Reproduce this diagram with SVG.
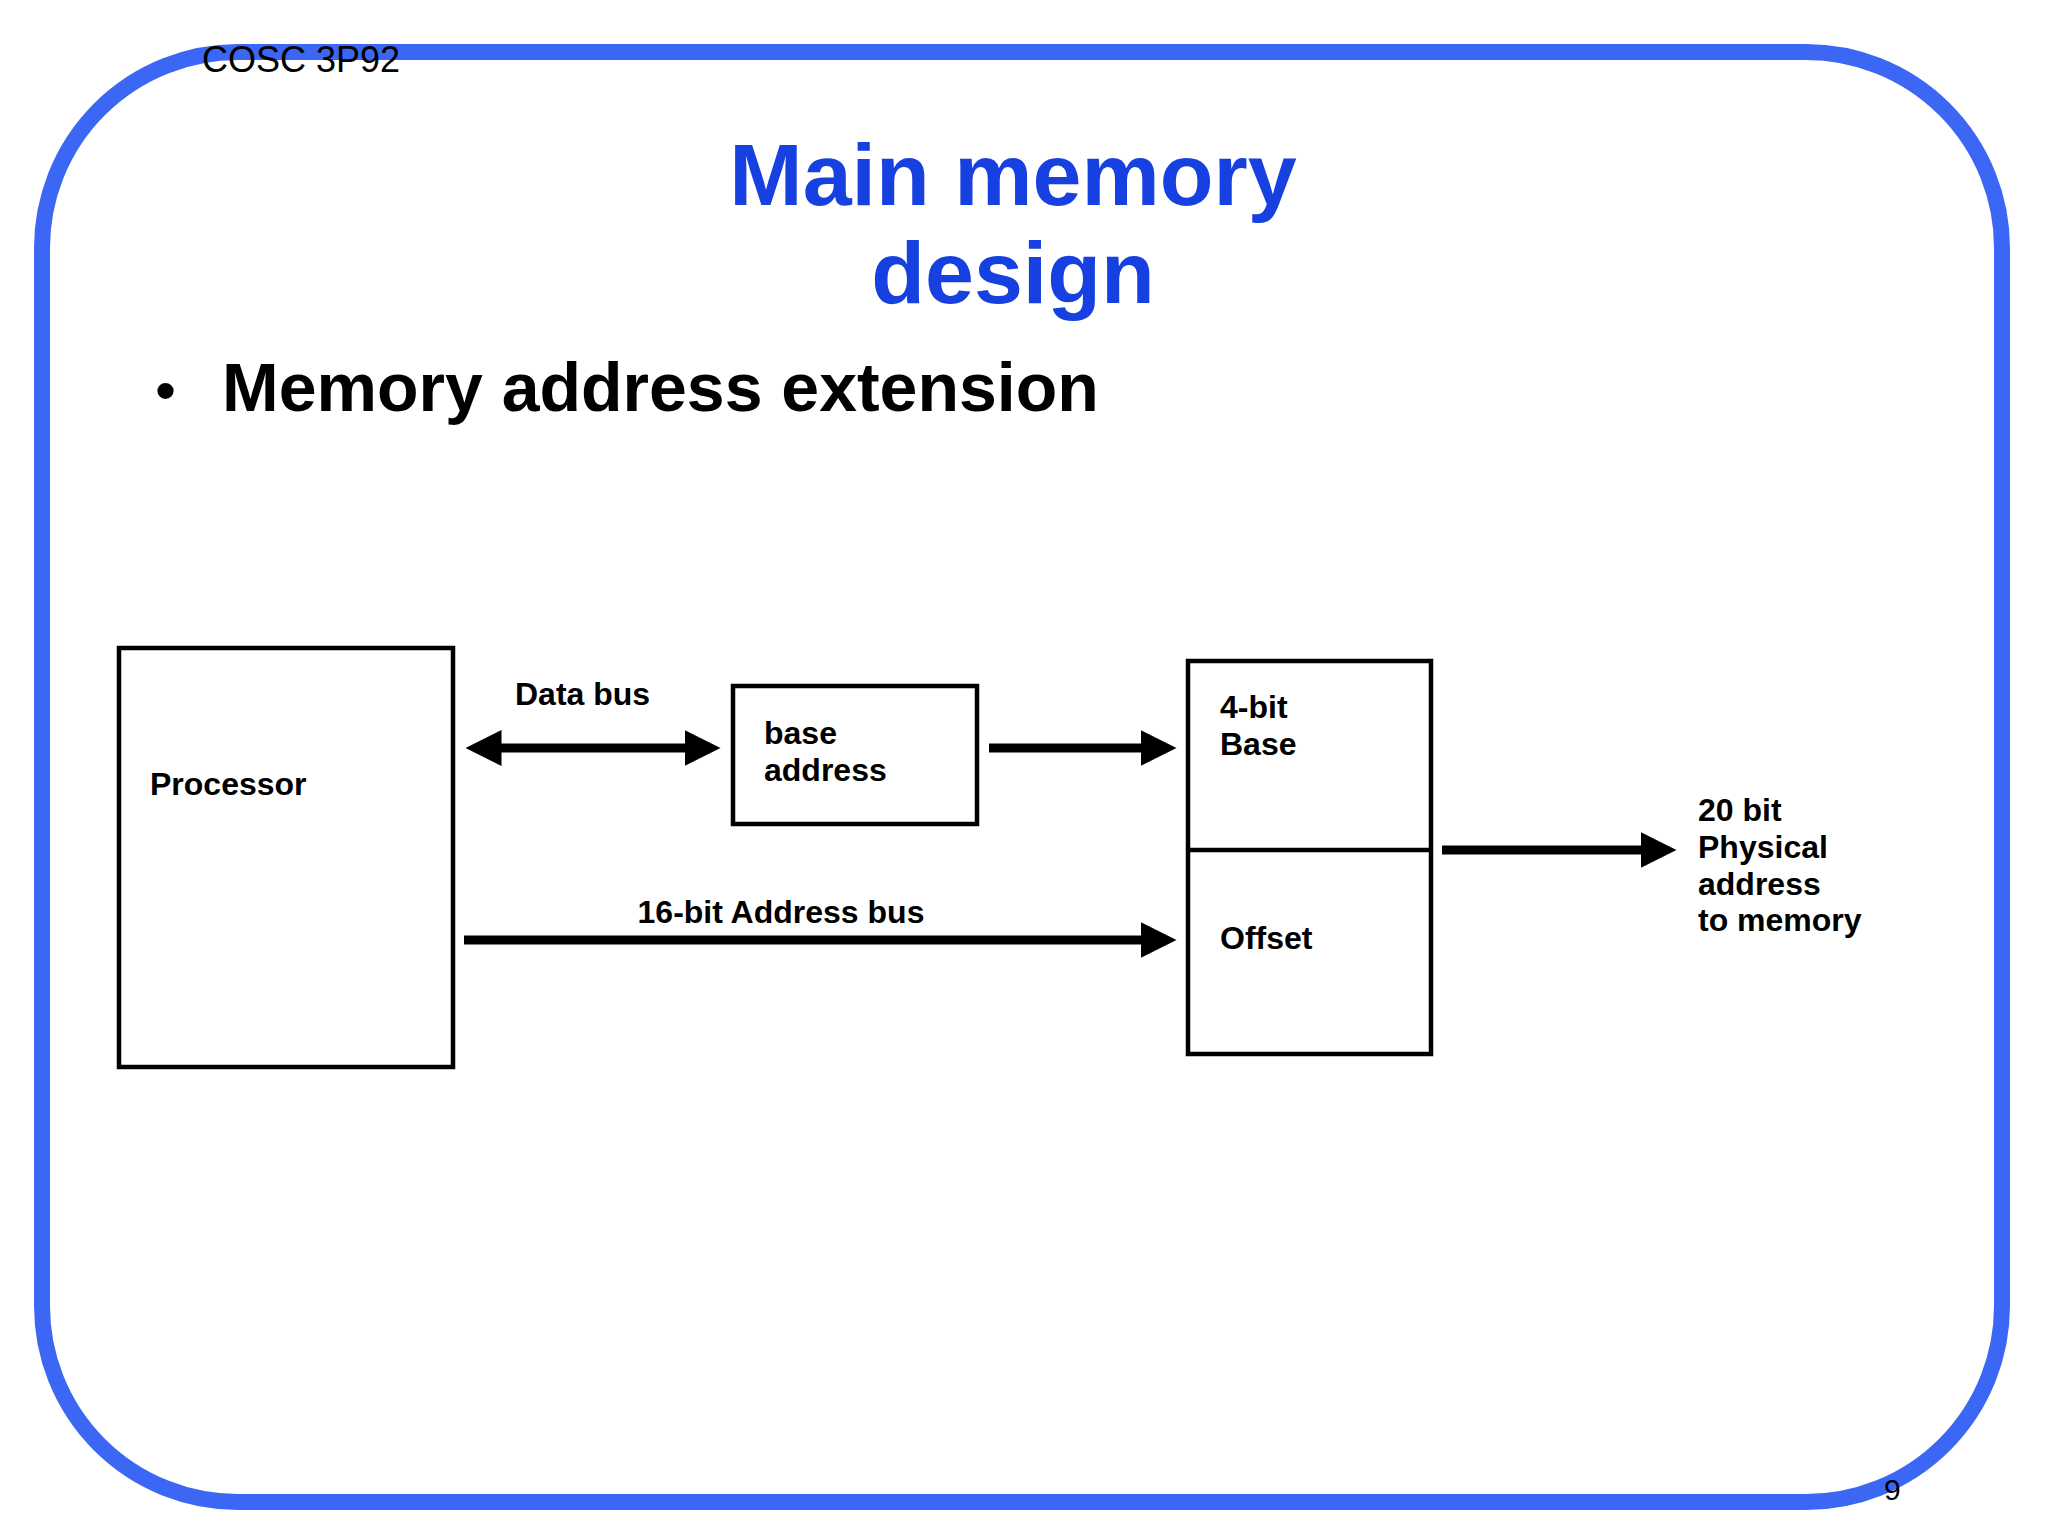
<svg xmlns="http://www.w3.org/2000/svg" width="2048" height="1536" viewBox="0 0 2048 1536">
<style>
.t{font-family:"Liberation Sans",Arial,sans-serif;font-weight:bold;font-size:32px;fill:#000}
.box{fill:none;stroke:#000;stroke-width:4.5}
.ln{stroke:#000;stroke-width:9;fill:none}
</style>
<defs>
<marker id="ah" markerWidth="4" markerHeight="4" refX="0.5" refY="2" orient="auto" markerUnits="strokeWidth" viewBox="0 0 4 4"><path d="M0,0 L4,2 L0,4 Z" fill="#000"/></marker>
<marker id="as" markerWidth="4" markerHeight="4" refX="3.5" refY="2" orient="auto" markerUnits="strokeWidth" viewBox="0 0 4 4"><path d="M4,0 L0,2 L4,4 Z" fill="#000"/></marker>
</defs>
<rect x="0" y="0" width="2048" height="1536" fill="#fff"/>
<rect x="42" y="52" width="1960" height="1450" rx="196" ry="196" fill="none" stroke="#3c67f5" stroke-width="16"/>
<text x="202" y="72" style="font-family:'Liberation Sans',Arial,sans-serif;font-size:36px;fill:#000">COSC 3P92</text>
<text x="1013" y="205" text-anchor="middle" style="font-family:'Liberation Sans',Arial,sans-serif;font-weight:bold;font-size:88px;fill:#1740e0">Main memory</text>
<text x="1013" y="303" text-anchor="middle" style="font-family:'Liberation Sans',Arial,sans-serif;font-weight:bold;font-size:88px;fill:#1740e0">design</text>
<text x="155" y="411" style="font-family:'Liberation Sans',Arial,sans-serif;font-size:60px;fill:#000">•</text>
<text x="222" y="411" style="font-family:'Liberation Sans',Arial,sans-serif;font-weight:bold;font-size:68px;fill:#000">Memory address extension</text>
<g id="processor"><rect class="box" x="119" y="648" width="334" height="419"/><text class="t" x="150" y="795">Processor</text></g>
<g id="base-address"><rect class="box" x="733" y="686" width="244" height="138"/><text class="t" x="764" y="744">base</text><text class="t" x="764" y="781">address</text></g>
<g id="register"><rect class="box" x="1188" y="661" width="243" height="393"/><line class="box" x1="1188" y1="850" x2="1431" y2="850"/><text class="t" x="1220" y="718">4-bit</text><text class="t" x="1220" y="755">Base</text><text class="t" x="1220" y="949">Offset</text></g>
<g id="output"><text class="t" x="1698" y="821">20 bit</text><text class="t" x="1698" y="858">Physical</text><text class="t" x="1698" y="895">address</text><text class="t" x="1698" y="931">to memory</text></g>
<g id="connectors">
<line class="ln" x1="497" y1="748" x2="689" y2="748" marker-start="url(#as)" marker-end="url(#ah)"/>
<text class="t" x="515" y="705">Data bus</text>
<line class="ln" x1="989" y1="748" x2="1145" y2="748" marker-end="url(#ah)"/>
<line class="ln" x1="464" y1="940" x2="1145" y2="940" marker-end="url(#ah)"/>
<text class="t" x="781" y="923" text-anchor="middle">16-bit Address bus</text>
<line class="ln" x1="1442" y1="850" x2="1645" y2="850" marker-end="url(#ah)"/>
</g>
<text x="1884" y="1500" style="font-family:'Liberation Sans',Arial,sans-serif;font-size:30px;fill:#000">9</text>
</svg>
